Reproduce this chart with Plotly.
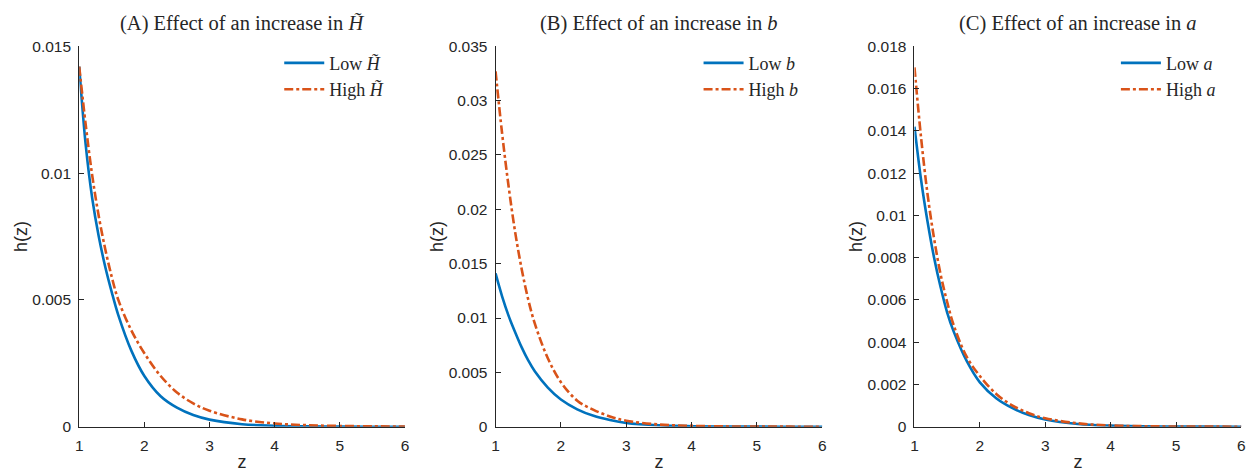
import plotly.graph_objects as go

z = [1, 1.1, 1.2, 1.3, 1.4, 1.5, 1.6, 1.8, 2, 2.25, 2.5, 2.75, 3, 3.5, 4, 4.5, 5, 5.5, 6]

a_low = [0.0142, 0.0111, 0.0090, 0.0075, 0.0063, 0.0053, 0.0044, 0.0030, 0.0020, 0.0012,
         0.00075, 0.00046, 0.00028, 0.00010, 0.00004, 0.000015, 0.000006, 0.000002, 0.000001]
a_high = [0.0142, 0.0119, 0.0099, 0.0083, 0.0070, 0.0059, 0.0050, 0.0038, 0.0029, 0.0020,
          0.00135, 0.00092, 0.00063, 0.00029, 0.00013, 0.00006, 0.00003, 0.000015, 0.000008]

b_low = [0.0141, 0.0120, 0.0102, 0.0087, 0.0073, 0.0061, 0.0051, 0.0036, 0.0025, 0.0016,
         0.0010, 0.00062, 0.00035, 0.00013, 0.00005, 0.00002, 0.000008, 0.000003, 0.000001]
b_high = [0.0327, 0.0270, 0.0221, 0.0179, 0.0145, 0.0117, 0.0095, 0.0063, 0.0041, 0.0024,
          0.00155, 0.00095, 0.00055, 0.00020, 0.00008, 0.00003, 0.000012, 0.000005, 0.000002]

c_low = [0.0142, 0.0117, 0.0097, 0.0080, 0.0066, 0.0054, 0.0045, 0.0031, 0.0021, 0.00135,
         0.00088, 0.00055, 0.00034, 0.00013, 0.00005, 0.00002, 0.000008, 0.000003, 0.000001]
c_high = [0.0170, 0.0137, 0.0110, 0.0089, 0.0072, 0.0059, 0.0048, 0.0033, 0.0024, 0.00155,
          0.00100, 0.00064, 0.00040, 0.00016, 0.00006, 0.000025, 0.00001, 0.000004, 0.000002]

titles = ["(A) Effect of an increase in <i>H\u0303</i>",
          "(B) Effect of an increase in <i>b</i>",
          "(C) Effect of an increase in <i>a</i>"]
low_names = ["Low <i>H\u0303</i>", "Low <i>b</i>", "Low <i>a</i>"]
high_names = ["High <i>H\u0303</i>", "High <i>b</i>", "High <i>a</i>"]
y_max = [0.015, 0.035, 0.018]
y_dtick = [0.005, 0.005, 0.002]
x_ticks = [1, 2, 3, 4, 5, 6]

W, H = 1260, 473
x_dom_px = [(75.7, 403.5), (494.7, 823.5), (916.3, 1245.3)]
y_bot_px, y_top_px = 433.3, 38.7
legend_x_px = [277, 699, 1119]

BLUE = "#0072BD"
ORANGE = "#D95319"
AX = "#262626"
SANS = "Liberation Sans, Arial, sans-serif"
SERIF = "Liberation Serif, Times New Roman, serif"

fig = go.Figure()
lows = [a_low, b_low, c_low]
highs = [a_high, b_high, c_high]

for i in range(3):
    xa = "x" if i == 0 else f"x{i+1}"
    ya = "y" if i == 0 else f"y{i+1}"
    lg = "legend" if i == 0 else f"legend{i+1}"
    fig.add_trace(go.Scatter(x=z, y=lows[i], mode="lines", name=low_names[i],
                             line=dict(color=BLUE, width=2.6, shape="spline"),
                             xaxis=xa, yaxis=ya, legend=lg))
    fig.add_trace(go.Scatter(x=z, y=highs[i], mode="lines", name=high_names[i],
                             line=dict(color=ORANGE, width=2.6, dash="9px,3px,3px,3px", shape="spline"),
                             xaxis=xa, yaxis=ya, legend=lg))

layout = dict(width=W, height=H, margin=dict(l=0, r=0, t=0, b=0),
              paper_bgcolor="white", plot_bgcolor="white", showlegend=True)

ydom = [1 - y_bot_px / H, 1 - y_top_px / H]
annotations = []
for i in range(3):
    sfx = "" if i == 0 else str(i + 1)
    x0, x1 = x_dom_px[i]
    layout[f"xaxis{sfx}"] = dict(
        domain=[x0 / W, x1 / W], range=[1, 6], tickvals=x_ticks,
        showline=True, linecolor=AX, linewidth=1, ticks="inside", ticklen=5,
        tickcolor=AX, tickwidth=1, showgrid=False, zeroline=False,
        tickfont=dict(family=SANS, size=15.5, color=AX), ticklabelstandoff=5,
        title=dict(text="z", font=dict(family=SANS, size=18, color=AX), standoff=2),
        anchor="y" + sfx,
    )
    layout[f"yaxis{sfx}"] = dict(
        domain=ydom, range=[0, y_max[i]], dtick=y_dtick[i], tick0=0,
        showline=True, linecolor=AX, linewidth=1, ticks="inside", ticklen=5,
        tickcolor=AX, tickwidth=1, showgrid=False, zeroline=False,
        tickfont=dict(family=SANS, size=15.5, color=AX), ticklabelstandoff=4,
        title=dict(text="h(z)", font=dict(family=SANS, size=18, color=AX), standoff=0),
        anchor="x" + sfx,
    )
    lg = "legend" if i == 0 else f"legend{i+1}"
    layout[lg] = dict(x=legend_x_px[i] / W, y=1 - 37 / H, xanchor="left", yanchor="top",
                      bgcolor="rgba(0,0,0,0)", borderwidth=0,
                      font=dict(family=SERIF, size=18, color=AX),
                      tracegroupgap=0, itemwidth=40)
    annotations.append(dict(text=titles[i], x=(x0 + x1) / 2 / W, y=1 - 15 / H,
                            xref="paper", yref="paper", xanchor="center", yanchor="middle",
                            showarrow=False, font=dict(family=SERIF, size=20.5, color=AX)))

layout["annotations"] = annotations
fig.update_layout(**layout)
fig.write_html("out.html")
